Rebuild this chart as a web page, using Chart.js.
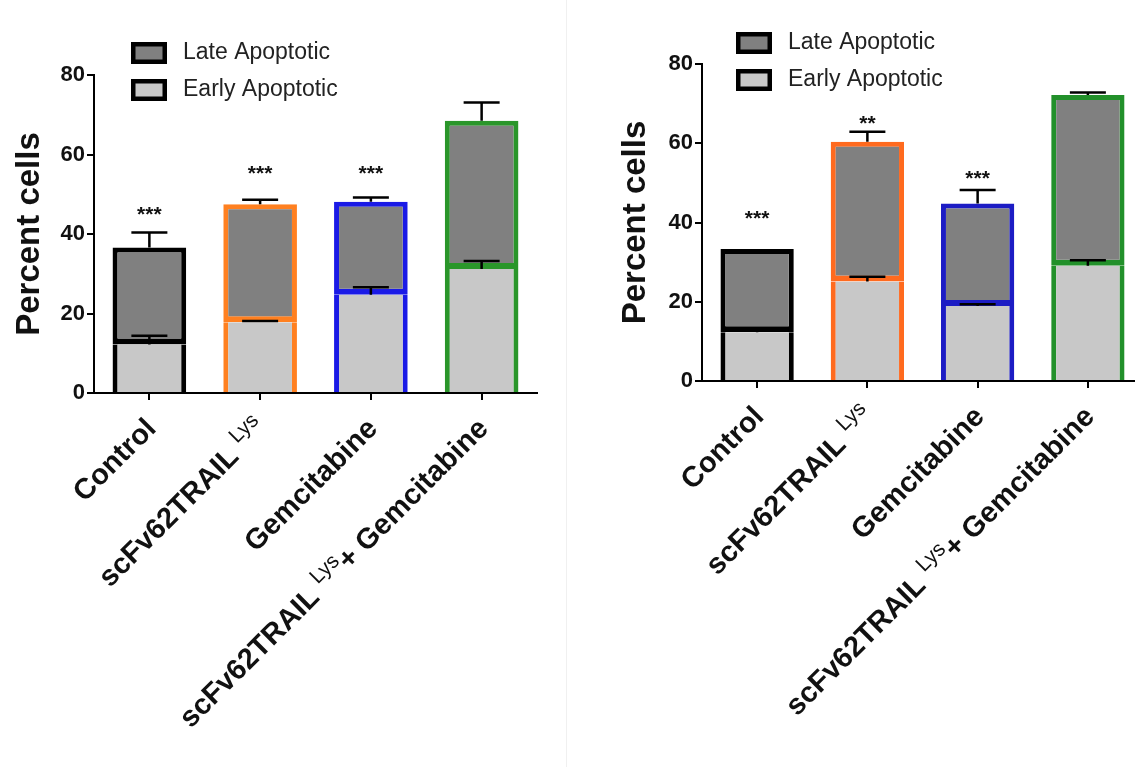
<!DOCTYPE html>
<html><head><meta charset="utf-8">
<script src="https://cdn.jsdelivr.net/npm/chart.js@4.4.1/dist/chart.umd.min.js"></script>
<style>
html,body{margin:0;padding:0;background:#fff;overflow:hidden;width:1135px;height:767px;}
#wrap{position:relative;width:1135px;height:767px;overflow:hidden;background:#fff;}
canvas{position:absolute;top:0;}
#c1{left:0;} #c2{left:580px;}
#divider{position:absolute;left:566px;top:0;width:1px;height:767px;background:#f0f0f0;}
</style></head><body>
<div id="wrap"><canvas id="c1" width="560" height="767"></canvas><div id="divider"></div><canvas id="c2" width="580" height="767"></canvas></div>
<script>
// ---------- data ----------
const categories = ['Control', 'scFv62TRAIL{Lys}', 'Gemcitabine', 'scFv62TRAIL{Lys}+ Gemcitabine'];
const seriesNames = ['Early Apoptotic', 'Late Apoptotic'];
const yTicks = [0, 20, 40, 60, 80];
const yAxisTitle = 'Percent cells';

// left panel
const earlyLeft = [12.2, 17.8, 24.7, 31.2];
const lateLeft = [24.4, 29.7, 23.4, 37.3];
const earlyErrLeft = [2.2, 0.3, 1.9, 2.0];
const totalErrLeft = [3.8, 1.1, 1.1, 4.6];
const starsLeft = ['***', '***', '***', ''];
const starPosLeft = [46.5, 56.8, 56.8, null];

// right panel
const earlyRight = [12.3, 25.1, 18.9, 29.1];
const lateRight = [21.0, 35.3, 25.9, 43.1];
const earlyErrRight = [0.6, 1.2, 0.5, 1.4];
const totalErrRight = [0, 2.5, 3.4, 0.6];
const starsRight = ['***', '**', '***', ''];
const starPosRight = [42.6, 66.5, 52.8, null];

// ---------- styles ----------
const FONT = '"Liberation Sans", Arial, Helvetica, sans-serif';
const lateFill = '#808080';
const earlyFill = '#c8c8c8';
const edgeLeft = ['#000000', '#ff8020', '#1a1ae6', '#2a962a'];
const edgeRight = ['#000000', '#ff6a1e', '#1c1cc4', '#22902a'];

const plainLabel = s => s.replace(/[{}]/g, ' ').replace(/\s+/g, ' ').trim();

const panelPlugin = {
  id: 'panel',
  afterDatasetsDraw(chart, args, o) {
    const ctx = chart.ctx, xs = chart.scales.x, ys = chart.scales.y;
    ctx.save();
    ctx.strokeStyle = '#000';
    ctx.lineWidth = 2.5;
    o.early.forEach((e, i) => {
      const cx = xs.getPixelForValue(i);
      [[e, o.earlyErr[i]], [e + o.late[i], o.totalErr[i]]].forEach(([v, err]) => {
        if (!err) return;
        const y0 = ys.getPixelForValue(v), y1 = ys.getPixelForValue(v + err);
        ctx.beginPath();
        ctx.moveTo(cx, y0); ctx.lineTo(cx, y1);
        ctx.moveTo(cx - o.cap / 2, y1); ctx.lineTo(cx + o.cap / 2, y1);
        ctx.stroke();
      });
      if (o.stars[i]) {
        ctx.fillStyle = '#111';
        ctx.font = 'bold 21px ' + FONT;
        ctx.textAlign = 'center';
        ctx.textBaseline = 'alphabetic';
        ctx.fillText(o.stars[i], cx, ys.getPixelForValue(o.starPos[i]) + 13);
      }
    });
    ctx.restore();
  },
  afterDraw(chart, args, o) {
    const ctx = chart.ctx, xs = chart.scales.x;
    ctx.save();
    // legend (Late on top, Early below)
    const items = [[seriesNames[1], lateFill], [seriesNames[0], earlyFill]];
    items.forEach(([name, fill], k) => {
      const bx = o.legend.x, by = o.legend.y + k * o.legend.gap;
      ctx.fillStyle = fill;
      ctx.fillRect(bx, by, 36, 22);
      ctx.strokeStyle = '#000';
      ctx.lineWidth = 4.5;
      ctx.strokeRect(bx + 2.25, by + 2.25, 31.5, 17.5);
      ctx.fillStyle = '#222';
      ctx.font = '23px ' + FONT;
      ctx.textAlign = 'left';
      ctx.textBaseline = 'middle';
      ctx.fillText(name, bx + 52, by + 11);
    });
    // x labels rotated with superscripts
    categories.forEach((lab, i) => {
      const parts = lab.split(/[{}]/);
      const mainF = 'bold 29px ' + FONT, supF = '21px ' + FONT;
      const widths = parts.map((p, k) => {
        ctx.font = k % 2 ? supF : mainF;
        return ctx.measureText(p).width + (k % 2 ? 8 : 0);
      });
      const W = widths.reduce((a, b) => a + b, 0);
      const ax = xs.getPixelForValue(i) + 8, ay = xs.top + 37;
      ctx.save();
      ctx.translate(ax, ay);
      ctx.rotate(-Math.PI / 4);
      ctx.fillStyle = '#111';
      ctx.textAlign = 'left';
      ctx.textBaseline = 'alphabetic';
      let x = -W;
      parts.forEach((p, k) => {
        const sup = k % 2 === 1;
        ctx.font = sup ? supF : mainF;
        ctx.fillText(p, x + (sup ? 8 : 0), sup ? -12 : 0);
        x += widths[k];
      });
      ctx.restore();
    });
    ctx.restore();
  }
};

function makeChart(id, d) {
  const bw = (top, bottom) => ({ top: top, bottom: bottom, left: 5, right: 5 });
  return new Chart(document.getElementById(id), {
    type: 'bar',
    data: {
      labels: categories.map(plainLabel),
      datasets: [
        { label: seriesNames[0], data: d.early, backgroundColor: earlyFill, borderColor: d.edge,
          borderWidth: bw(0, 0), borderSkipped: false, categoryPercentage: 1, barPercentage: 0.665 },
        { label: seriesNames[1], data: d.late, backgroundColor: lateFill, borderColor: d.edge,
          borderWidth: bw(5, 6), borderSkipped: false, categoryPercentage: 1, barPercentage: 0.665 }
      ]
    },
    options: {
      responsive: false, animation: false, devicePixelRatio: 1,
      layout: { padding: { top: d.top, right: d.padRight, left: 0, bottom: 0 } },
      plugins: {
        legend: { display: false }, tooltip: { enabled: false },
        panel: { early: d.early, late: d.late, earlyErr: d.earlyErr, totalErr: d.totalErr,
                 stars: d.stars, starPos: d.starPos, cap: 36, legend: d.legend }
      },
      scales: {
        x: {
          stacked: true, offset: true,
          grid: { display: true, drawOnChartArea: false, drawTicks: true, tickLength: 7, offset: false,
                  color: '#000', lineWidth: 2 },
          border: { display: true, color: '#000', width: 2 },
          ticks: { display: false },
          afterFit: s => { s.height = d.xH; }
        },
        y: {
          stacked: true, min: 0, max: 80,
          afterBuildTicks: s => { s.ticks = yTicks.map(v => ({ value: v })); },
          grid: { display: true, drawOnChartArea: false, drawTicks: true, tickLength: 7, color: '#000', lineWidth: 2 },
          border: { display: true, color: '#000', width: 2 },
          ticks: { color: '#111', padding: 2, font: { family: FONT, size: 22, weight: 'bold' } },
          title: { display: true, text: yAxisTitle, color: '#111',
                   font: { family: FONT, size: 33, weight: 'bold' }, padding: { top: d.titlePad, bottom: 0 } },
          afterFit: s => { s.width = d.yW; }
        }
      }
    },
    plugins: [panelPlugin]
  });
}

makeChart('c1', {
  early: earlyLeft, late: lateLeft, earlyErr: earlyErrLeft, totalErr: totalErrLeft,
  stars: starsLeft, starPos: starPosLeft, edge: edgeLeft,
  top: 75, padRight: 23, xH: 374, yW: 94, titlePad: 10,
  legend: { x: 131, y: 42, gap: 37 }
});
makeChart('c2', {
  early: earlyRight, late: lateRight, earlyErr: earlyErrRight, totalErr: totalErrRight,
  stars: starsRight, starPos: starPosRight, edge: edgeRight,
  top: 64, padRight: 17, xH: 386, yW: 122, titlePad: 36,
  legend: { x: 156, y: 32, gap: 37 }
});
</script>
</body></html>
